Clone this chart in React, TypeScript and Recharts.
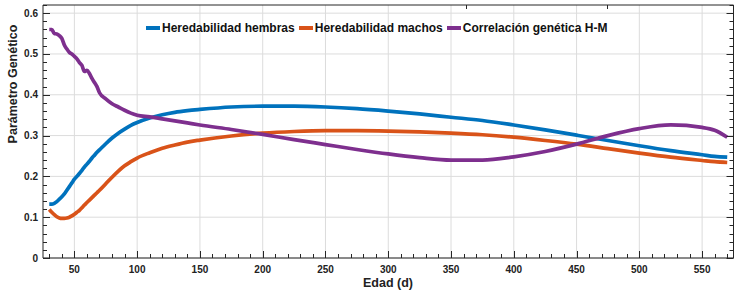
import { LineChart, Line, XAxis, YAxis, CartesianGrid, Legend } from 'recharts';

// Edad (d)
const edades = [
  30, 32, 34, 36, 38, 40, 42, 44, 46, 48, 50, 52, 54, 56, 58, 60, 62, 64, 66, 68, 70, 75, 80, 85, 90, 95,
  100, 110, 120, 130, 140, 150, 175, 200, 225, 250, 275, 300, 325, 350, 375, 400, 425, 450, 475, 500, 525,
  550, 560, 570,
];

const heredabilidadHembras = [
  0.132, 0.132, 0.134, 0.138, 0.144, 0.15, 0.157, 0.166, 0.175, 0.184, 0.193, 0.2, 0.207, 0.215, 0.223, 0.23,
  0.237, 0.245, 0.252, 0.259, 0.265, 0.28, 0.294, 0.306, 0.316, 0.325, 0.332, 0.343, 0.351, 0.357, 0.361,
  0.364, 0.37, 0.372, 0.372, 0.37, 0.366, 0.36, 0.353, 0.345, 0.337, 0.326, 0.314, 0.301, 0.288, 0.275,
  0.263, 0.253, 0.249, 0.247,
];

const heredabilidadMachos = [
  0.119, 0.112, 0.106, 0.101, 0.098, 0.097, 0.097, 0.098, 0.1, 0.103, 0.107, 0.112, 0.117, 0.123, 0.13,
  0.136, 0.142, 0.148, 0.154, 0.16, 0.166, 0.182, 0.198, 0.213, 0.226, 0.236, 0.245, 0.258, 0.269, 0.277,
  0.284, 0.289, 0.299, 0.306, 0.31, 0.312, 0.312, 0.311, 0.309, 0.306, 0.302, 0.296, 0.288, 0.279, 0.268,
  0.257, 0.247, 0.239, 0.236, 0.234,
];

const correlacionGenetica = [
  0.56, 0.56, 0.55, 0.549, 0.545, 0.538, 0.522, 0.512, 0.504, 0.5, 0.494, 0.488, 0.479, 0.472, 0.457, 0.46,
  0.452, 0.44, 0.43, 0.42, 0.405, 0.39, 0.378, 0.37, 0.362, 0.355, 0.35, 0.346, 0.341, 0.336, 0.331, 0.326,
  0.315, 0.303, 0.29, 0.278, 0.266, 0.255, 0.246, 0.24, 0.24, 0.248, 0.261, 0.279, 0.3, 0.317, 0.326,
  0.32, 0.313, 0.296,
];

const data = edades.map((edad, i) => ({
  edad,
  hembras: heredabilidadHembras[i],
  machos: heredabilidadMachos[i],
  correlacion: correlacionGenetica[i],
}));

const series = [
  { key: 'hembras', name: 'Heredabilidad hembras', color: '#0072BD' },
  { key: 'machos', name: 'Heredabilidad machos', color: '#D95319' },
  { key: 'correlacion', name: 'Correlación genética H-M', color: '#7E2F8E' },
];

const xMajorTicks = [50, 100, 150, 200, 250, 300, 350, 400, 450, 500, 550];
const yMajorTicks = [0, 0.1, 0.2, 0.3, 0.4, 0.5, 0.6];

// minor ticks: every 10 days / every 0.02
const xTicks: number[] = [];
for (let v = 30; v <= 570; v += 10) xTicks.push(v);
const yTicks: number[] = [];
for (let i = 0; i <= 31; i++) yTicks.push(Math.round(i * 2) / 100);

const FONT = '"Liberation Sans", Arial, Helvetica, sans-serif';
const AXIS = '#262626';

const isMajorX = (v: number) => v % 50 === 0;
const isMajorY = (v: number) => Math.abs(v * 10 - Math.round(v * 10)) < 1e-6;
// pixel-snapped coordinate so 1px tick marks stay dark
const px = (v: number) => Math.round(v) + 0.5;

function BottomTick(props: any) {
  const { x, y, payload } = props;
  const major = isMajorX(payload.value);
  return (
    <g>
      <line x1={px(x)} x2={px(x)} y1={y} y2={y - (major ? 7 : 4)} stroke={AXIS} strokeWidth={1} />
      {major && (
        <text x={x} y={y + 14.5} textAnchor="middle" fontSize={10} fontWeight="bold" fill="#222" fontFamily={FONT}>
          {payload.value}
        </text>
      )}
    </g>
  );
}

function TopTick(props: any) {
  const { x, y, payload } = props;
  const major = isMajorX(payload.value);
  return <line x1={px(x)} x2={px(x)} y1={y} y2={y + (major ? 7 : 4)} stroke={AXIS} strokeWidth={1} />;
}

function LeftTick(props: any) {
  const { x, y, payload } = props;
  const major = isMajorY(payload.value);
  const v = payload.value;
  return (
    <g>
      <line x1={x} x2={x + (major ? 7 : 4)} y1={px(y)} y2={px(y)} stroke={AXIS} strokeWidth={1} />
      {major && (
        <text x={x - 5} y={y + 3.5} textAnchor="end" fontSize={10} fontWeight="bold" fill="#222" fontFamily={FONT}>
          {v === 0 ? '0' : v.toFixed(1)}
        </text>
      )}
    </g>
  );
}

function RightTick(props: any) {
  const { x, y, payload } = props;
  const major = isMajorY(payload.value);
  return <line x1={x} x2={x - (major ? 7 : 4)} y1={px(y)} y2={px(y)} stroke={AXIS} strokeWidth={1} />;
}

function YTitle() {
  return (
    <text
      x={0}
      y={0}
      transform="translate(17, 84) rotate(-90)"
      textAnchor="middle"
      fontSize={12.5}
      fontWeight="bold"
      fill="#222"
      fontFamily={FONT}
    >
      Parámetro Genético
    </text>
  );
}

function XTitle() {
  return (
    <text x={388} y={287} textAnchor="middle" fontSize={12.5} fontWeight="bold" fill="#222" fontFamily={FONT}>
      Edad (d)
    </text>
  );
}

function LeyendaSuperior() {
  return (
    <div style={{ display: 'flex', alignItems: 'center', fontFamily: FONT, fontWeight: 'bold', fontSize: 12, color: '#111' }}>
      {series.map((s) => (
        <div key={s.key} style={{ display: 'flex', alignItems: 'center', marginRight: 4 }}>
          <div style={{ width: 14, height: 4, backgroundColor: s.color, marginRight: 2 }} />
          <span>{s.name}</span>
        </div>
      ))}
    </div>
  );
}

export default function App() {
  return (
    <div style={{ position: 'absolute', left: 0, top: 0, width: 738, height: 293, background: '#fff' }}>
      <LineChart width={738} height={293} data={data} margin={{ top: 4, right: 3.5, left: 0, bottom: 0 }}>
        <CartesianGrid
          stroke="#dcdcdc"
          horizontalValues={yMajorTicks}
          verticalValues={xMajorTicks}
        />
        <XAxis
          type="number"
          dataKey="edad"
          domain={[25, 575]}
          allowDataOverflow
          ticks={xTicks}
          interval={0}
          tickSize={0}
          tickMargin={0}
          tickLine={false}
          tick={BottomTick}
          height={35}
          axisLine={{ stroke: AXIS }}
          label={<XTitle />}
        />
        <XAxis
          xAxisId="top"
          orientation="top"
          type="number"
          domain={[25, 575]}
          allowDataOverflow
          ticks={xTicks}
          interval={0}
          tickSize={0}
          tickMargin={0}
          tickLine={false}
          tick={TopTick}
          height={1}
          axisLine={{ stroke: AXIS }}
        />
        <YAxis
          type="number"
          domain={[0, 0.62]}
          allowDataOverflow
          ticks={yTicks}
          interval={0}
          tickSize={0}
          tickMargin={0}
          tickLine={false}
          tick={LeftTick}
          width={43}
          axisLine={{ stroke: AXIS }}
          label={<YTitle />}
        />
        <YAxis
          yAxisId="right"
          orientation="right"
          type="number"
          domain={[0, 0.62]}
          allowDataOverflow
          ticks={yTicks}
          interval={0}
          tickSize={0}
          tickMargin={0}
          tickLine={false}
          tick={RightTick}
          width={1}
          axisLine={{ stroke: AXIS }}
        />
        <Legend
          layout="horizontal"
          verticalAlign="middle"
          align="center"
          content={<LeyendaSuperior />}
          wrapperStyle={{ top: 21, left: 146, width: 520, height: 16 }}
        />
        {series.map((s) => (
          <Line
            key={s.key}
            type="monotone"
            dataKey={s.key}
            name={s.name}
            stroke={s.color}
            strokeWidth={3.7}
            dot={false}
            isAnimationActive={false}
          />
        ))}
      </LineChart>
    </div>
  );
}
